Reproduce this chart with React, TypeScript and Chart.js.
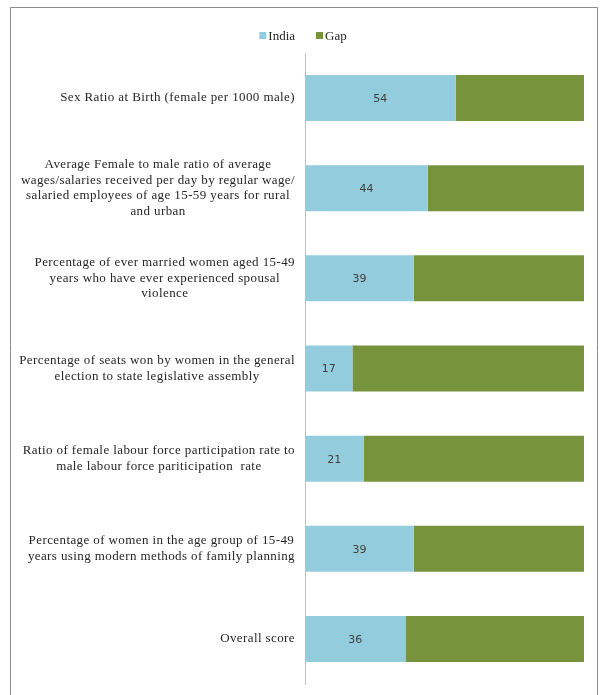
import React, { useEffect, useRef } from "react";
import { Chart, registerables } from "chart.js";

Chart.register(...registerables);

const categories: (string | string[])[] = [
  "Sex Ratio at Birth (female per 1000 male)",
  [
    "Average Female to male ratio of average",
    "wages/salaries received per day by regular wage/",
    "salaried employees of age 15-59 years for rural",
    "and urban",
  ],
  [
    "Percentage of ever married women aged 15-49",
    "years who have ever experienced spousal",
    "violence",
  ],
  [
    "Percentage of seats won by women in the general",
    "election to state legislative assembly",
  ],
  [
    "Ratio of female labour force participation rate to",
    "male labour force pariticipation  rate",
  ],
  [
    "Percentage of women in the age group of 15-49",
    "years using modern methods of family planning",
  ],
  "Overall score",
];

const indiaValues = [54, 44, 39, 17, 21, 39, 36];
const gapValues = [46, 56, 61, 83, 79, 61, 64];

const INDIA_COLOR = "#93CDDD";
const GAP_COLOR = "#77933C";
const SERIF = "'Liberation Serif', 'Times New Roman', serif";
const SANS = "'DejaVu Sans', sans-serif";

const framePlugin = {
  id: "frame",
  beforeDraw(chart: any) {
    const ctx = chart.ctx;
    ctx.save();
    ctx.fillStyle = "#ffffff";
    ctx.fillRect(0, 0, chart.width, chart.height);
    ctx.strokeStyle = "#8c8c8c";
    ctx.lineWidth = 1;
    ctx.beginPath();
    ctx.moveTo(10.5, chart.height);
    ctx.lineTo(10.5, 7.5);
    ctx.lineTo(597.5, 7.5);
    ctx.lineTo(597.5, chart.height);
    ctx.stroke();
    ctx.restore();
  },
};

const labelsPlugin = {
  id: "customLabels",
  afterDraw(chart: any) {
    const ctx = chart.ctx;
    const yScale = chart.scales.y;
    const area = chart.chartArea;
    ctx.save();
    // category labels: right-aligned block, lines centered within block
    ctx.font = `13px ${SERIF}`;
    (ctx as any).letterSpacing = "0.4px";
    ctx.fillStyle = "#262626";
    ctx.textBaseline = "middle";
    ctx.textAlign = "center";
    const lineH = 15.5;
    const rightEdge = area.left - 10;
    (chart.data.labels as (string | string[])[]).forEach((lab, i) => {
      const lines = Array.isArray(lab) ? lab : [lab];
      const w = Math.max(...lines.map((l) => ctx.measureText(l).width));
      const cx = rightEdge - w / 2;
      const cy = yScale.getPixelForValue(i);
      const startY = cy - ((lines.length - 1) * lineH) / 2;
      lines.forEach((l, k) => ctx.fillText(l, cx, startY + k * lineH));
    });
    (ctx as any).letterSpacing = "0px";
    // data labels for India
    ctx.font = `11px ${SANS}`;
    ctx.fillStyle = "#404040";
    const meta = chart.getDatasetMeta(0);
    meta.data.forEach((bar: any, i: number) => {
      const p = bar.getCenterPoint();
      ctx.fillText(String(chart.data.datasets[0].data[i]), p.x, p.y + 1);
    });
    // legend
    ctx.font = `13px ${SERIF}`;
    ctx.textAlign = "left";
    const box = 7;
    const gapBT = 2;
    const spacing = 21;
    const items = chart.data.datasets.map((d: any) => ({
      label: d.label,
      color: d.backgroundColor,
      w: box + gapBT + ctx.measureText(d.label).width,
    }));
    const total =
      items.reduce((s: number, it: any) => s + it.w, 0) +
      spacing * (items.length - 1);
    let x = 303 - total / 2;
    const ly = 35.5;
    items.forEach((it: any) => {
      ctx.fillStyle = it.color;
      ctx.fillRect(x, ly - box / 2, box, box);
      ctx.fillStyle = "#262626";
      ctx.fillText(it.label, x + box + gapBT, ly + 1);
      x += it.w + spacing;
    });
    ctx.restore();
  },
};

export default function App() {
  const ref = useRef<HTMLCanvasElement | null>(null);
  useEffect(() => {
    if (!ref.current) return;
    const chart = new Chart(ref.current, {
      type: "bar",
      data: {
        labels: categories as any,
        datasets: [
          {
            label: "India",
            data: indiaValues,
            backgroundColor: INDIA_COLOR,
            borderWidth: 0,
            barPercentage: 0.51,
            categoryPercentage: 1,
          },
          {
            label: "Gap",
            data: gapValues,
            backgroundColor: GAP_COLOR,
            borderWidth: 0,
            barPercentage: 0.51,
            categoryPercentage: 1,
          },
        ],
      },
      options: {
        indexAxis: "y",
        animation: false,
        responsive: false,
        devicePixelRatio: 1,
        layout: { padding: { left: 305, right: 20, top: 53, bottom: 11 } },
        plugins: {
          legend: { display: false },
          tooltip: { enabled: false },
        },
        scales: {
          x: {
            stacked: true,
            min: 0,
            max: 100,
            display: false,
          },
          y: {
            stacked: true,
            ticks: { display: false },
            grid: { display: false, drawTicks: false },
            border: { display: true, color: "#bfbfbf", width: 1 },
          },
        },
      },
      plugins: [framePlugin, labelsPlugin],
    });
    return () => chart.destroy();
  }, []);
  return (
    <div style={{ position: "absolute", left: 0, top: 0, width: 604, height: 695 }}>
      <canvas ref={ref} width={604} height={695} style={{ display: "block" }} />
    </div>
  );
}
